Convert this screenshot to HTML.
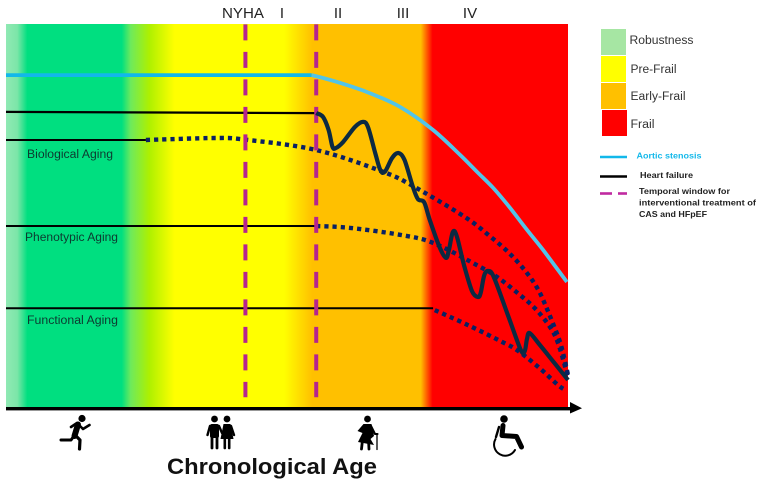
<!DOCTYPE html>
<html lang="en">
<head>
<meta charset="utf-8">
<title>Frailty and aging chart</title>
<style>
html,body{margin:0;padding:0;background:#fff;}
body{width:760px;height:484px;overflow:hidden;}
svg{display:block;}
text{font-family:"Liberation Sans",sans-serif;}
</style>
</head>
<body>
<svg id="chart" xmlns="http://www.w3.org/2000/svg" width="760" height="484" viewBox="0 0 760 484">
  <defs>
    <linearGradient id="frailtyGradient" gradientUnits="userSpaceOnUse" x1="6" y1="0" x2="568" y2="0">
      <stop offset="0" stop-color="#90e9b4"/>
      <stop offset="0.02" stop-color="#7ce6a8"/>
      <stop offset="0.038" stop-color="#00df80"/>
      <stop offset="0.206" stop-color="#00df80"/>
      <stop offset="0.222" stop-color="#6eea5c"/>
      <stop offset="0.255" stop-color="#aef000"/>
      <stop offset="0.30" stop-color="#ffff00"/>
      <stop offset="0.495" stop-color="#ffff00"/>
      <stop offset="0.545" stop-color="#ffc000"/>
      <stop offset="0.738" stop-color="#ffc000"/>
      <stop offset="0.759" stop-color="#ff0000"/>
      <stop offset="1" stop-color="#ff0000"/>
    </linearGradient>
  </defs>

  <rect x="6" y="24" width="562" height="384" fill="url(#frailtyGradient)"/>
  <g id="marks"></g>

  <g>
    <rect x="6" y="407" width="566" height="3.4" fill="#000"/>
    <polygon points="570,402 582,408.2 570,413.5" fill="#000"/>
  </g>

  <g font-size="15" fill="#222">
    <text x="222" y="18" textLength="42" lengthAdjust="spacingAndGlyphs">NYHA</text>
    <text x="282" y="18" text-anchor="middle">I</text>
    <text x="338" y="18" text-anchor="middle">II</text>
    <text x="403" y="18" text-anchor="middle">III</text>
    <text x="470" y="18" text-anchor="middle">IV</text>
  </g>

  <g font-size="11.5" fill="#0d3a30">
    <text x="27" y="158" textLength="86" lengthAdjust="spacingAndGlyphs">Biological Aging</text>
    <text x="25" y="241" textLength="93" lengthAdjust="spacingAndGlyphs">Phenotypic Aging</text>
    <text x="27" y="324" textLength="91" lengthAdjust="spacingAndGlyphs">Functional Aging</text>
  </g>

  <g>
    <rect x="601" y="29" width="25" height="26" fill="#a6e6a3"/>
    <rect x="601" y="56" width="25" height="26" fill="#ffff00"/>
    <rect x="601" y="83" width="25" height="26" fill="#ffc000"/>
    <rect x="602" y="110" width="25" height="26" fill="#ff0000"/>
    <g font-size="11.5" fill="#333">
      <text x="629.5" y="44" textLength="64" lengthAdjust="spacingAndGlyphs">Robustness</text>
      <text x="630.5" y="73" textLength="46" lengthAdjust="spacingAndGlyphs">Pre-Frail</text>
      <text x="630.5" y="100" textLength="55" lengthAdjust="spacingAndGlyphs">Early-Frail</text>
      <text x="630.5" y="128" textLength="24" lengthAdjust="spacingAndGlyphs">Frail</text>
    </g>
    <line x1="600" y1="157" x2="627" y2="157" stroke="#12b8ea" stroke-width="2.6"/>
    <line x1="600" y1="176.5" x2="627" y2="176.5" stroke="#000" stroke-width="2.4"/>
    <line x1="600" y1="193.5" x2="612" y2="193.5" stroke="#c02aa0" stroke-width="2.6"/>
    <line x1="618" y1="193.5" x2="627" y2="193.5" stroke="#c02aa0" stroke-width="2.6"/>
    <g font-size="8.2" font-weight="bold">
      <text x="636.5" y="158.5" fill="#12b8ea" textLength="65" lengthAdjust="spacingAndGlyphs">Aortic stenosis</text>
      <text x="640" y="178" fill="#222" textLength="53" lengthAdjust="spacingAndGlyphs">Heart failure</text>
      <text x="639" y="194" fill="#222" textLength="91" lengthAdjust="spacingAndGlyphs">Temporal window for</text>
      <text x="639" y="205.5" fill="#222" textLength="117" lengthAdjust="spacingAndGlyphs">interventional treatment of</text>
      <text x="639" y="217" fill="#222" textLength="68" lengthAdjust="spacingAndGlyphs">CAS and HFpEF</text>
    </g>
  </g>

  <g fill="none" stroke="#000" stroke-linecap="round" stroke-linejoin="round">
    <circle cx="82" cy="418.5" r="3.6" fill="#000" stroke="none"/>
    <path d="M78 424.5 L74.5 436" stroke-width="6"/>
    <path d="M71 427 L77 423 L83 429 L89.5 425" stroke-width="2.6"/>
    <path d="M74 436 L71 440 L61 440" stroke-width="3"/>
    <path d="M75 435 L80 440 L79.5 449" stroke-width="3.2"/>
  </g>
  <g fill="#000" stroke="#000" stroke-linecap="round" stroke-linejoin="round">
    <circle cx="214.5" cy="419" r="3.4" stroke="none"/>
    <circle cx="227" cy="419" r="3.4" stroke="none"/>
    <rect x="210" y="424" width="9" height="14" rx="2" stroke="none"/>
    <path d="M212 436 V448 M217 436 V448" stroke-width="2.8" fill="none"/>
    <path d="M210 426 L207.5 435 M219 426 L222 433" stroke-width="2.4" fill="none"/>
    <polygon points="223.5,424 230.5,424 233.5,439 220.5,439" stroke="none"/>
    <path d="M224.8 438 V448 M229.2 438 V448" stroke-width="2.6" fill="none"/>
    <path d="M231 426 L234 435" stroke-width="2.4" fill="none"/>
  </g>
  <g fill="#000" stroke="#000" stroke-linecap="round" stroke-linejoin="round">
    <circle cx="367.5" cy="419" r="3.4" stroke="none"/>
    <polygon points="363.5,424 371.5,424 374,436 370.5,439 374,445 358,442 362.5,433 357.5,431" stroke="none"/>
    <path d="M362.5 440 L361.5 449 M368.5 440 L369 449" stroke-width="2.8" fill="none"/>
    <path d="M371 426 L375 434 L377.5 434" stroke-width="2.1" fill="none"/>
    <path d="M377 434 V449.5" stroke-width="1.3" fill="none"/>
  </g>
  <g fill="none" stroke="#000" stroke-linecap="round" stroke-linejoin="round">
    <circle cx="504" cy="419" r="3.8" fill="#000" stroke="none"/>
    <path d="M503 425.5 L502 435.5 L516.5 436.5 L521.5 447" stroke-width="5"/>
    <path d="M499 427 L496 437" stroke-width="2.4"/>
    <path d="M495.5 439 A11 11 0 1 0 515 450" stroke-width="2"/>
  </g>

  <text x="167" y="474" font-size="22" font-weight="bold" fill="#111" textLength="210" lengthAdjust="spacingAndGlyphs">Chronological Age</text>
</svg>

<script>
/* Series values: age (0-100 along the axis) and functional level (0-100) */
const heartFailureFlatAges = [0, 55.2];
const heartFailureFlatLevels = [77.1, 76.8];
const biologicalFlatAges = [0, 24.9];
const biologicalFlatLevels = [69.8, 69.8];
const phenotypicFlatAges = [0, 55.2];
const phenotypicFlatLevels = [47.4, 47.4];
const functionalFlatAges = [0, 76.0];
const functionalFlatLevels = [26.0, 26.0];

const biologicalAges = [24.9, 37.2, 42.5, 55.2, 67.1, 72.4, 81.7, 86.3, 89.5, 92.5, 94.7, 96.4, 98, 98.9, 100];
const biologicalLevels = [69.8, 70.3, 69.9, 67.2, 61.5, 57.8, 49.7, 44.5, 40.4, 35.5, 30.8, 25.3, 19.5, 15.6, 8.6];
const phenotypicAges = [55.2, 61.2, 70.1, 76, 83.8, 87.4, 90.9, 94.1, 96.8, 98.2, 99.5, 100];
const phenotypicLevels = [47.4, 46.9, 45.1, 43, 37.2, 34.1, 30.1, 26, 21.1, 17, 10.7, 7.8];
const functionalAges = [76.3, 82.2, 88.3, 90.9, 94.7, 98.2, 99.5];
const functionalLevels = [25.5, 21.6, 17.2, 15.1, 10.7, 6, 4.7];

const aorticFlatAges = [0, 54.4];
const aorticFlatLevels = [86.7, 86.7];
const aorticAges = [54.4, 58.2, 64.2, 70.1, 76, 80.8, 83.8, 86.7, 89.7, 92.7, 95.6, 99.8];
const aorticLevels = [86.7, 85.2, 82.3, 78.4, 72.4, 65.9, 61.5, 57.3, 52.1, 46.4, 41.1, 32.8];

const heartFailureAges = [55.2, 56.4, 57.4, 58.1, 58.7, 60, 62.1, 63.5, 64.4, 65.7, 66.6, 67.4, 68.7, 69.8, 70.9, 72.4, 73.3, 74.4, 75.4, 77.2, 78.3, 78.8, 79.5, 80.2, 81.5, 82.9, 84.0, 84.5, 85.1, 85.8, 86.8, 89.3, 91.6, 92.3, 92.7, 93.2, 95.0, 97.7, 100];
const heartFailureLevels = [76.8, 75.8, 72.4, 68.0, 67.7, 69.3, 73.2, 74.5, 73.2, 66.4, 62.0, 61.5, 65.1, 66.4, 64.6, 57.6, 54.4, 53.6, 49.0, 41.7, 39.1, 41.1, 45.8, 44.8, 37.2, 30.5, 28.9, 30.2, 34.6, 35.7, 34.1, 24.2, 15.1, 14.8, 18.0, 19.5, 16.4, 11.5, 7.3];

const windowAges = [42.6, 55.2];

/* Axis functions */
const plotLeft = 6, plotWidth = 562, plotBottom = 408, plotHeight = 384;
function xAxis(age) { return plotLeft + age / 100 * plotWidth; }
function yAxis(level) { return plotBottom - level / 100 * plotHeight; }

function toPoints(ages, levels) {
  return ages.map(function (a, i) { return [xAxis(a), yAxis(levels[i])]; });
}
function smoothPath(p) {
  let d = 'M' + p[0][0].toFixed(1) + ' ' + p[0][1].toFixed(1);
  for (let i = 0; i < p.length - 1; i++) {
    const a = p[Math.max(i - 1, 0)], b = p[i], c = p[i + 1], e = p[Math.min(i + 2, p.length - 1)];
    const c1x = b[0] + (c[0] - a[0]) / 6, c1y = b[1] + (c[1] - a[1]) / 6;
    const c2x = c[0] - (e[0] - b[0]) / 6, c2y = c[1] - (e[1] - b[1]) / 6;
    d += 'C' + c1x.toFixed(1) + ' ' + c1y.toFixed(1) + ' ' + c2x.toFixed(1) + ' ' + c2y.toFixed(1) + ' ' + c[0].toFixed(1) + ' ' + c[1].toFixed(1);
  }
  return d;
}

const marks = document.getElementById('marks');
function addPath(ages, levels, stroke, width, dash) {
  const el = document.createElementNS('http://www.w3.org/2000/svg', 'path');
  el.setAttribute('d', smoothPath(toPoints(ages, levels)));
  el.setAttribute('fill', 'none');
  el.setAttribute('stroke', stroke);
  el.setAttribute('stroke-width', width);
  if (dash) el.setAttribute('stroke-dasharray', dash);
  marks.appendChild(el);
  return el;
}

let el;
el = addPath(heartFailureFlatAges, heartFailureFlatLevels, '#000', 2.2);


el = addPath(biologicalFlatAges, biologicalFlatLevels, '#000', 2);


el = addPath(phenotypicFlatAges, phenotypicFlatLevels, '#000', 2);


el = addPath(functionalFlatAges, functionalFlatLevels, '#000', 2);



el = addPath(biologicalAges, biologicalLevels, '#0a2163', 4.4, '4.2 4');


el = addPath(phenotypicAges, phenotypicLevels, '#0a2163', 4.4, '4.2 4');


el = addPath(functionalAges, functionalLevels, '#0a2163', 4.4, '4.2 4');



windowAges.forEach(function (age) {
  const line = document.createElementNS('http://www.w3.org/2000/svg', 'line');
  line.setAttribute('x1', xAxis(age));
  line.setAttribute('x2', xAxis(age));
  line.setAttribute('y1', yAxis(99.9));
  line.setAttribute('y2', yAxis(2.8));
  line.setAttribute('stroke', '#b5248f');
  line.setAttribute('stroke-width', '4');
  line.setAttribute('stroke-dasharray', '16 11.5');
  
  
  marks.appendChild(line);
});

el = addPath(aorticFlatAges, aorticFlatLevels, '#12b8ea', 3.8);


el = addPath(aorticAges, aorticLevels, '#52c4e8', 3.8);



el = addPath(heartFailureAges, heartFailureLevels, '#0c2a42', 4.2);
el.setAttribute('stroke-linejoin', 'round');


</script>
</body>
</html>
